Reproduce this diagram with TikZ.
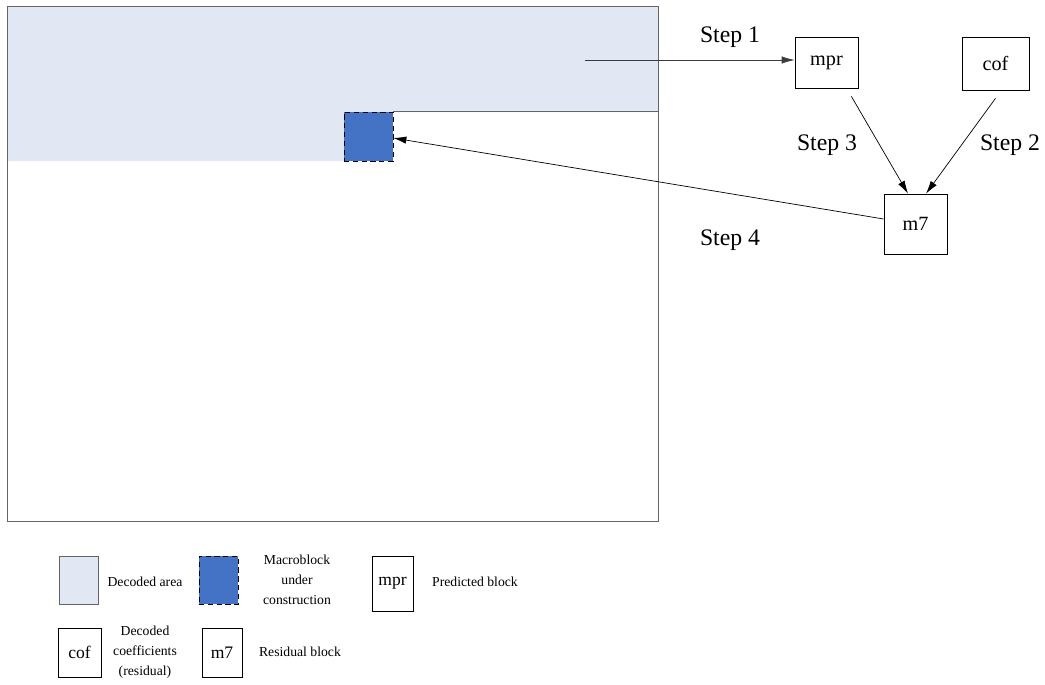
\documentclass[tikz,border=0pt]{standalone}
\usepackage{fontspec}
\setmainfont{Liberation Serif}
\usetikzlibrary{arrows.meta}
\definecolor{decoded}{RGB}{225,232,244}
\definecolor{mbblue}{RGB}{68,114,196}
\definecolor{framegray}{RGB}{100,100,100}
\begin{document}
\begin{tikzpicture}[x=0.02cm,y=-0.02cm,
    block/.style={draw,rectangle,inner sep=0pt,font=\fontsize{11.5}{13}\selectfont},
    keybox/.style={draw,rectangle,inner sep=0pt,font=\fontsize{10}{12}\selectfont},
    steplabel/.style={font=\fontsize{13.5}{16}\selectfont},
    keytext/.style={align=center,font=\fontsize{7.8}{11.3}\selectfont},
    arrow/.style={-{Latex[length=7.4pt,width=4.2pt]},thin}]
  \useasboundingbox (0,0) rectangle (1045,684);
  % Decoded area and frame
  \fill[decoded] (7,6) -- (658,6) -- (658,112) -- (344,112) -- (344,161) -- (7,161) -- cycle;
  \draw[framegray] (7,6) rectangle (658,521);
  \node[draw,densely dashed,fill=mbblue,inner sep=0pt,minimum width=0.98cm,minimum height=0.98cm] (mb) at (368.5,136.5) {};
  \draw[framegray] (mb.north east) -- ++(265,0);
  % Blocks
  \node[block,minimum width=1.26cm,minimum height=1.02cm] (mpr) at (826.5,62.5) {mpr};
  \node[block,minimum width=1.34cm,minimum height=1.06cm] (cof) at (995.5,63.5) {cof};
  \node[block,minimum width=1.26cm,minimum height=1.2cm] (m7) at (915.5,224) {m7};
  % Steps
  \coordinate (s1) at (585,60);
  \draw[arrow,framegray!60!black] (s1) -- (s1 -| mpr.west);
  \draw[arrow] ([xshift=-0.14cm,yshift=-0.16cm]mpr.south east) -- ([xshift=-0.15cm]m7.north);
  \draw[arrow] ([yshift=-0.16cm]cof.south) -- ([xshift=0.21cm]m7.north);
  \draw[arrow] ([yshift=0.1cm]m7.west) -- ([yshift=-0.03cm]mb.east);
  \node[steplabel] (l1) at (730,37) {Step 1};
  \node[steplabel] (l2) at (1010,145) {Step 2};
  \node[steplabel] (l3) at (827,145) {Step 3};
  \node[steplabel] (l4) at (730,240) {Step 4};
  % Legend
  \node[draw=framegray,fill=decoded,inner sep=0pt,minimum width=0.78cm,minimum height=0.96cm] (k1) at (78.5,580) {};
  \node[keytext] (t1) at (145,582) {Decoded area};
  \node[draw,densely dashed,fill=mbblue,inner sep=0pt,minimum width=0.78cm,minimum height=0.96cm] (k2) at (218.5,580) {};
  \node[keytext] (t2) at (297,580) {Macroblock\\under\\construction};
  \node[keybox,minimum width=0.82cm,minimum height=1.1cm] (k3) at (392.5,583.5) {mpr};
  \node[keytext] (t3) at (475,582) {Predicted block};
  \node[keybox,minimum width=0.86cm,minimum height=0.98cm] (k4) at (79.5,652.5) {cof};
  \node[keytext] (t4) at (145,652) {Decoded\\coefficients\\(residual)};
  \node[keybox,minimum width=0.8cm,minimum height=0.98cm] (k5) at (222,652.5) {m7};
  \node[keytext] (t5) at (300,652) {Residual block};
\end{tikzpicture}
\end{document}
